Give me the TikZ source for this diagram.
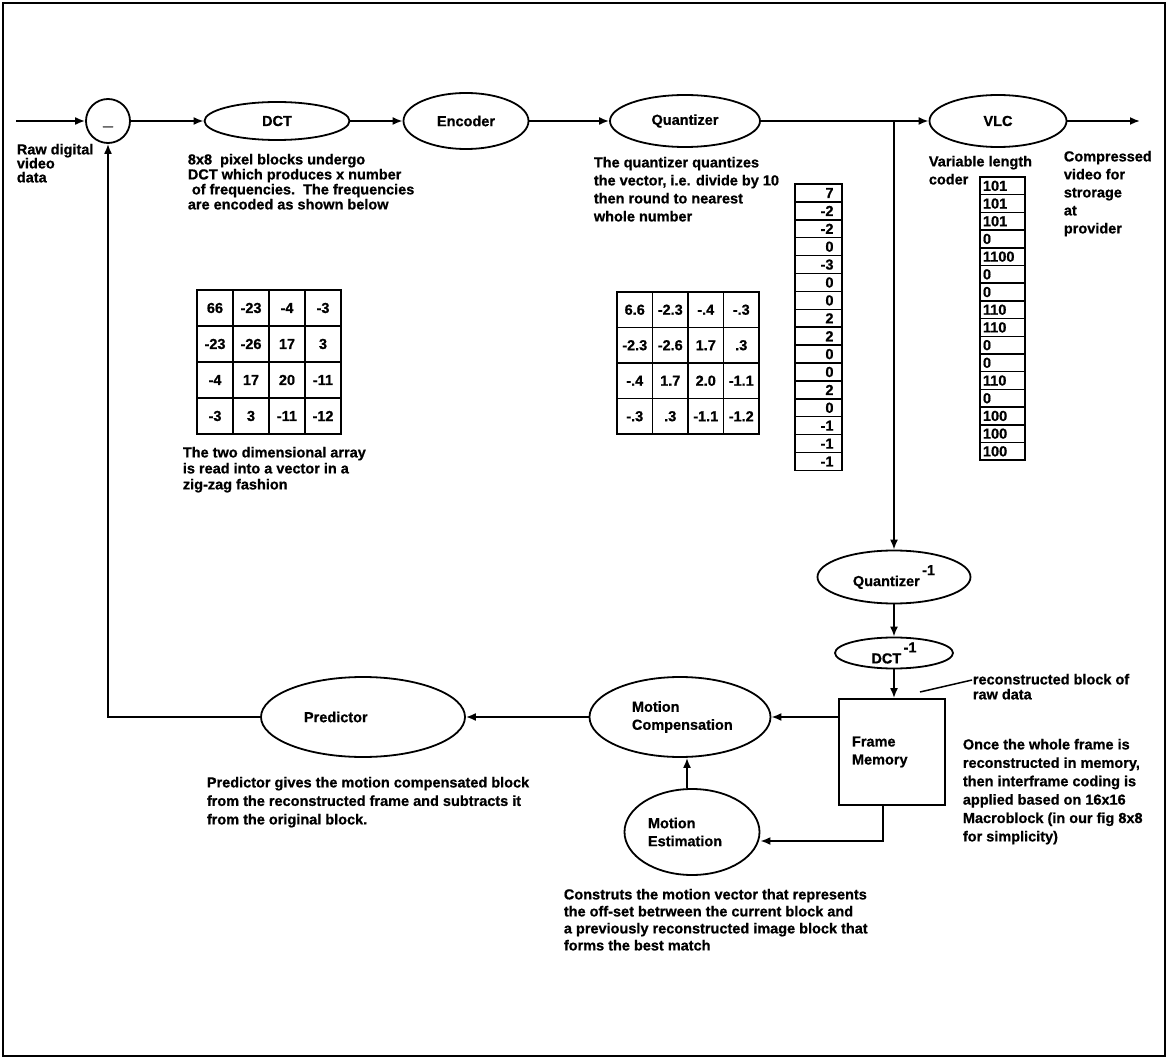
\documentclass[tikz,border=0pt]{standalone}
\usepackage{fontspec}
\setmainfont{Liberation Sans}[BoldFeatures={FakeBold=0.8}]
\usetikzlibrary{shapes.geometric,arrows.meta}
\newcommand{\inv}[1]{#1\raisebox{11pt}{\,-1}}

\begin{document}
\begin{tikzpicture}[x=1pt,y=-1pt,line width=1.8pt,>={Latex[length=10pt,width=8pt]},
    font=\fontsize{14.5}{18}\selectfont\bfseries,
    proc/.style={draw,ellipse,inner sep=0pt},
    note/.style={anchor=north west,align=left,inner sep=0pt},
    tight/.style={font=\fontsize{14.5}{15}\selectfont\bfseries},
    cell/.style={draw,line width=1.5pt,inner sep=0pt},
    vcell/.style={draw,line width=1.5pt,inner sep=0pt}]
  \useasboundingbox (0,0) rectangle (1168,1059);
  \draw (3,3) rectangle (1165,1056);

  % forward path
  \coordinate (in) at (16,121);
  \node[draw,circle,minimum size=44pt,inner sep=0pt,text height=0pt,text depth=0pt,
    font=\fontsize{18}{18}\selectfont\bfseries] (sub) at (108,121) {\raisebox{-4pt}{\_}};
  \node[proc,minimum width=145pt,minimum height=38pt] (dct) at (277,121) {DCT};
  \node[proc,minimum width=125pt,minimum height=56pt] (enc) at (466,121) {Encoder};
  \node[proc,minimum width=150pt,minimum height=52pt] (quant) at (685,121) {Quantizer};
  \node[proc,minimum width=137pt,minimum height=52pt] (vlc) at (998,121) {VLC};
  \coordinate (out) at (1140,121);
  \coordinate (br) at (894,121);
  \draw[->] (in) -- (sub);
  \draw[->] (sub) -- (dct);
  \draw[->] (dct) -- (enc);
  \draw[->] (enc) -- (quant);
  \draw[->] (quant) -- (vlc);
  \draw[->] (vlc) -- (out);

  % reconstruction loop
  \node[proc,minimum width=153pt,minimum height=53pt] (iquant) at (894,577) {\inv{Quantizer}};
  \node[proc,minimum width=118pt,minimum height=31pt] (idct) at (894,653) {\inv{DCT}};
  \node[draw,minimum width=106pt,minimum height=106pt,text width=80pt,align=left] (fmem) at (892,752) {Frame\\Memory};
  \node[proc,minimum width=181pt,minimum height=80pt,text width=96pt,align=left] (mc) at (680,717) {Motion\\Compensation};
  \node[proc,minimum width=135pt,minimum height=86pt,text width=88pt,align=left] (me) at (692,832) {Motion\\Estimation};
  \node[proc,minimum width=204pt,minimum height=80pt,text width=118pt,align=left] (pred) at (363,717) {Predictor};
  \draw[->] (br) -- (iquant);
  \draw[->] (iquant) -- (idct);
  \draw[->] (idct) -- (idct |- fmem.north);
  \draw[->] (fmem.west |- mc) -- (mc);
  \draw[->] ([xshift=-9pt]fmem.south) |- ([yshift=-9pt]me.east);
  \draw[->] ([xshift=-5pt]me.north) -- ([xshift=-5pt]me.north |- mc.south);
  \draw[->] (mc) -- (pred);
  \draw[->] (pred) -| (sub);

  % frequency tables
  \foreach \row [count=\r from 0] in {{66,-23,-4,-3},{-23,-26,17,3},{-4,17,20,-11},{-3,3,-11,-12}}
    \foreach \v [count=\c from 0] in \row
      \node[cell,minimum size=36pt] (dm-\r-\c) at ({215+36*\c},{308+36*\r}) {\v};
  \foreach \row [count=\r from 0] in {{6.6,-2.3,-.4,-.3},{-2.3,-2.6,1.7,.3},{-.4,1.7,2.0,-1.1},{-.3,.3,-1.1,-1.2}}
    \foreach \v [count=\c from 0] in \row
      \node[cell,minimum size=35.5pt] (qm-\r-\c) at ({634.75+35.5*\c},{309.75+35.5*\r}) {\v};

  % zig-zag vector and its codes
  \foreach \v [count=\i from 0] in {7,-2,-2,0,-3,0,0,2,2,0,0,2,0,-1,-1,-1}
    \node[vcell,minimum width=47pt,minimum height=17.9pt,text width=30pt,align=right] (qv-\i) at (818.5,{193+17.9*\i}) {\v};
  \foreach \v [count=\i from 0] in {101,101,101,0,1100,0,0,110,110,0,0,110,0,100,100,100}
    \node[vcell,minimum width=45pt,minimum height=17.7pt,text width=39pt,align=left] (cv-\i) at (1002.5,{185.85+17.7*\i}) {\v};

  % notes
  \node[note,font=\fontsize{14.5}{14}\selectfont\bfseries] (rawtxt) at (16,143) {Raw digital\\video\\data};
  \node[note,tight] (dcttxt) at (187,153) {8x8\ \ pixel blocks undergo\\DCT which produces x number\\\ of frequencies.\ \ The frequencies\\are encoded as shown below};
  \node[note,font=\fontsize{14.5}{16}\selectfont\bfseries] (zigtxt) at (182,446) {The two dimensional array\\is read into a vector in a\\zig-zag fashion};
  \node[note] (quanttxt) at (593,156) {The quantizer quantizes\\the vector, i.e. divide by 10\\then round to nearest\\whole number};
  \node[note] (vlctxt) at (928,155) {Variable length\\coder};
  \node[note] (outtxt) at (1063,150) {Compressed\\video for\\strorage\\at\\provider};
  \node[note,tight] (rectxt) at (972,673) {reconstructed block of\\raw data};
  \coordinate (recend) at (920,692);
  \draw[line width=1.5pt] (recend) -- ([yshift=-7pt]rectxt.north west);
  \node[note,font=\fontsize{14.5}{18.4}\selectfont\bfseries] (fmemtxt) at (962,738) {Once the whole frame is\\reconstructed in memory,\\then interframe coding is\\applied based on 16x16\\Macroblock (in our fig 8x8\\for simplicity)};
  \node[note,font=\fontsize{14.5}{18.5}\selectfont\bfseries] (predtxt) at (206,776) {Predictor gives the motion compensated block\\from the reconstructed frame and subtracts it\\from the original block.};
  \node[note,font=\fontsize{14.5}{17}\selectfont\bfseries] (metxt) at (563,888) {Construts the motion vector that represents\\the off-set betrween the current block and\\a previously reconstructed image block that\\forms the best match};
\end{tikzpicture}
\end{document}
